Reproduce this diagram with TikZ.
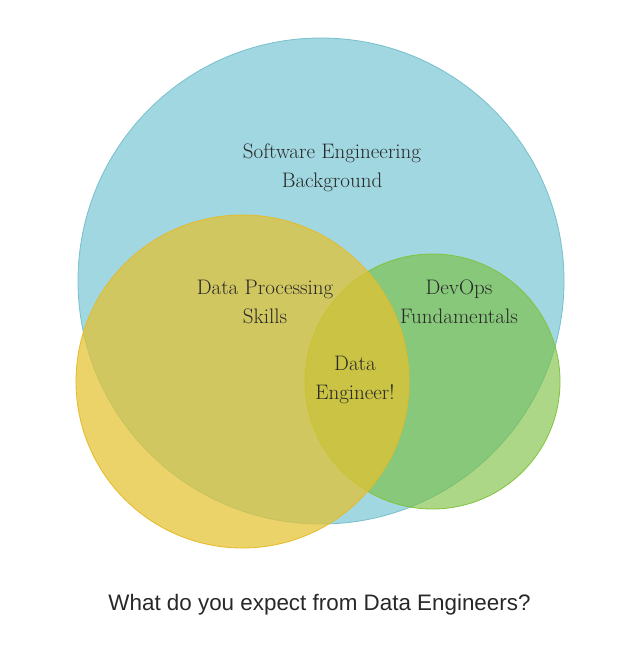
\documentclass[tikz,border=0pt]{standalone}
\usepackage{fontspec}
\newfontfamily\capfont{Liberation Sans}
\definecolor{bluefill}{RGB}{160,215,224}
\definecolor{blueline}{RGB}{120,192,204}
\definecolor{yelfill}{RGB}{228,194,48}
\definecolor{yelline}{RGB}{230,186,40}
\definecolor{grnfill}{RGB}{122,192,60}
\definecolor{grnline}{RGB}{130,194,60}
\definecolor{txt}{RGB}{40,40,40}
\begin{document}
\begin{tikzpicture}[x=1pt,y=-1pt,
  lbl/.style={text=txt,font=\fontsize{21}{29}\selectfont,align=center},
  caption/.style={text=txt,font=\capfont\fontsize{22.4}{27}\selectfont}]
\useasboundingbox[fill=white] (0,0) rectangle (630,653);
\fill[bluefill] (321,281) circle[radius=243];
\draw[blueline,line width=0.8] (321,281) circle[radius=243];
\fill[grnfill,fill opacity=0.62] (432.5,381.5) circle[radius=127.5];
\draw[grnline,line width=0.8] (432.5,381.5) circle[radius=127.5];
\fill[yelfill,fill opacity=0.72] (242.5,381.5) circle[radius=166.5];
\draw[yelline,line width=0.8] (242.5,381.5) circle[radius=166.5];
\node[lbl] (sw) at (332,168) {Software Engineering\\Background};
\node[lbl] (dp) at (265,302) {Data Processing\\Skills};
\node[lbl] (do) at (459,302) {DevOps\\Fundamentals};
\node[lbl] (de) at (355,380) {Data\\Engineer!};
\node[caption] (cap) at (319.5,605) {What do you expect from Data Engineers?};
\end{tikzpicture}
\end{document}
